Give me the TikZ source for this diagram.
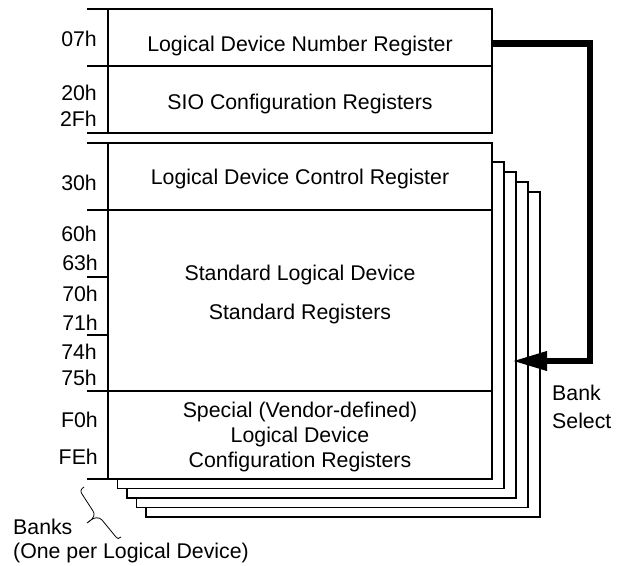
\documentclass[tikz,border=0pt]{standalone}
\usepackage{fontspec}
\setmainfont{Liberation Sans}
\usetikzlibrary{arrows.meta}

\begin{document}
\begin{tikzpicture}[x=1pt,y=-1pt,
        every node/.style={font=\fontsize{21.3}{25}\selectfont, inner sep=0pt},
        addr/.style={anchor=base east},
        regtxt/.style={anchor=base, align=center},
        box/.style={line width=1.6pt},
        page/.style={line width=1.6pt, fill=white},
        banksel/.style={line width=6.5pt, -{Triangle[length=35pt,width=18pt]}}]
        \useasboundingbox (0,0) rectangle (621,565);

        % the other banks, behind the front one
        \foreach \i in {4,3,2,1}
            \draw[page] (108+9.5*\i,152+10*\i) rectangle (492+12*\i,479+9.5*\i);

        % global registers
        \draw[box] (87,9) -- (492,9) -- (492,133) -- (87,133);
        \draw[box] (87,66) -- (492,66);
        \draw[box] (108,9) -- (108,133);

        % front bank
        \fill[white] (108,143) rectangle (492,479);
        \draw[box] (87,143) -- (492,143) -- (492,479) -- (87,479);
        \draw[box] (87,210) -- (492,210);
        \draw[box] (87,391) -- (492,391);
        \draw[box] (87,277) -- (108,277);
        \draw[box] (87,335) -- (108,335);
        \draw[box] (108,143) -- (108,479);

        % register texts (base = last line)
        \node[regtxt] (ldnr) at (300,51.5) {Logical Device Number Register};
        \node[regtxt] (sio) at (300,109.5) {SIO Configuration Registers};
        \node[regtxt] (ldcr) at (300,184.5) {Logical Device Control Register};
        \node[regtxt] (std) at (300,319.5) {Standard Logical Device\\[14pt]Standard Registers};
        \node[regtxt] (vend) at (300,467.5) {Special (Vendor-defined)\\Logical Device\\Configuration Registers};

        % addresses
        \node[addr] (a07) at (97,46.5) {07h};
        \node[addr] (a20) at (97,100.5) {20h};
        \node[addr] (a2F) at (97,126.5) {2Fh};
        \node[addr] (a30) at (97,190.5) {30h};
        \node[addr] (a60) at (97,241.5) {60h};
        \node[addr] (a63) at (98,270.5) {63h};
        \node[addr] (a70) at (98,301.5) {70h};
        \node[addr] (a71) at (98,330.5) {71h};
        \node[addr] (a74) at (97,359.5) {74h};
        \node[addr] (a75) at (97,385.5) {75h};
        \node[addr] (aF0) at (98,427.5) {F0h};
        \node[addr] (aFE) at (98,464.5) {FEh};

        % bank select
        \coordinate (ldn) at (492,43.5);
        \coordinate (bank) at (512,361);
        \draw[banksel] (ldn) -- (590,43.5) |- (bank);
        \node[anchor=base west, align=left] (bsel) at (552,428.5) {Bank\\[3pt]Select};

        % banks brace
        \coordinate (bt) at (84,487);
        \coordinate (bb) at (121,537);
        \draw[line width=0.8pt] (bt) .. controls (81,489) and (80,491) .. (82,494) -- (93,511)
            .. controls (95,514) and (95,518) .. (87,523)
            .. controls (95,516) and (99,517) .. (102,520) -- (116,537)
            .. controls (117,539) and (119,539) .. (bb);
        \node[anchor=base west, align=left] (banks) at (13,558.5) {Banks\\[-1pt](One per Logical Device)};
    \end{tikzpicture}
\end{document}
